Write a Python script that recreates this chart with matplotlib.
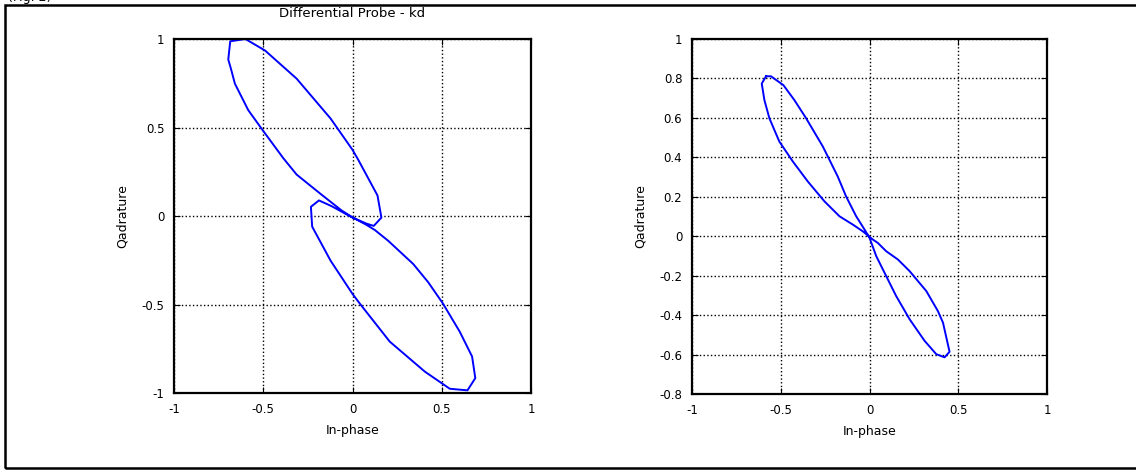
import numpy as np
import matplotlib.pyplot as plt
from matplotlib.patches import Rectangle

plt.rcParams['font.family'] = ['DejaVu Sans']

# left panel: Differential Probe - kd (figure-8 trace)
i_kd = [-0.60, -0.49, -0.313, -0.123, 0.0, 0.032, 0.140, 0.162, 0.119, 0.078,
        -0.006, -0.118, -0.188, -0.233, -0.226, -0.123, 0.0, 0.041, 0.209, 0.405,
        0.545, 0.644, 0.688, 0.670, 0.601, 0.507, 0.424, 0.340, 0.200, 0.125,
        0.078, -0.006, -0.062, -0.174, -0.313, -0.388, -0.504, -0.584, -0.659,
        -0.681, -0.696, -0.685, -0.60]
q_kd = [1.0, 0.935, 0.776, 0.551, 0.374, 0.318, 0.116, -0.009, -0.056, -0.043,
        -0.006, 0.056, 0.088, 0.052, -0.060, -0.252, -0.44, -0.495, -0.710, -0.879,
        -0.976, -0.985, -0.916, -0.794, -0.654, -0.495, -0.374, -0.271, -0.140, -0.079,
        -0.050, -0.004, 0.032, 0.121, 0.234, 0.327, 0.486, 0.598, 0.748,
        0.832, 0.884, 0.987, 1.0]

# right panel
i_r = [-0.583, -0.555, -0.485, -0.423, -0.357, -0.263, -0.179, -0.132, -0.075,
       -0.028, 0.0, 0.038, 0.094, 0.150, 0.226, 0.310, 0.376, 0.423, 0.451,
       0.414, 0.385, 0.320, 0.226, 0.160, 0.094, 0.047, 0.019, -0.004, -0.038,
       -0.094, -0.169, -0.254, -0.348, -0.432, -0.508, -0.564, -0.592, -0.607,
       -0.583]
q_r = [0.811, 0.811, 0.766, 0.690, 0.598, 0.455, 0.303, 0.202, 0.101,
       0.034, -0.008, -0.101, -0.202, -0.303, -0.421, -0.530, -0.598, -0.614, -0.586,
       -0.438, -0.379, -0.278, -0.177, -0.118, -0.076, -0.034, -0.017, 0.0, 0.025,
       0.059, 0.101, 0.177, 0.278, 0.379, 0.480, 0.598, 0.690, 0.774,
       0.811]

xticks = [-1, -0.5, 0, 0.5, 1]
yticks_l = [-1, -0.5, 0, 0.5, 1]
yticks_r = [-0.8, -0.6, -0.4, -0.2, 0, 0.2, 0.4, 0.6, 0.8, 1]

fig = plt.figure(figsize=(11.36, 4.73), dpi=100)

# outer frame (right edge falls outside the picture)
fig.patches.append(Rectangle((5 / 1136, 5 / 473), 1.2, 1 - 10 / 473,
                             transform=fig.transFigure, fill=False,
                             edgecolor='black', linewidth=1.8, clip_on=False))
fig.text(8 / 1136, 1 - 1.5 / 473, '(Fig. 2)', fontsize=9, va='baseline')

ax1 = fig.add_axes([174 / 1136, 1 - 393 / 473, 357 / 1136, 354 / 473])
ax2 = fig.add_axes([692 / 1136, 1 - 394 / 473, 355 / 1136, 355 / 473])

for ax, xs, ys, yt, ylim in [(ax1, i_kd, q_kd, yticks_l, (-1, 1)),
                             (ax2, i_r, q_r, yticks_r, (-0.8, 1))]:
    ax.plot(xs, ys, color=(0, 0, 1), linewidth=1.4)
    ax.set_xlim(-1, 1)
    ax.set_ylim(*ylim)
    ax.set_xticks(xticks)
    ax.set_xticklabels(['%g' % v for v in xticks])
    ax.set_yticks(yt)
    ax.set_yticklabels(['%g' % v for v in yt])
    ax.grid(True, linestyle=':', color='black', linewidth=1.0)
    ax.tick_params(direction='in', top=True, right=True, length=4,
                   labelsize=8.5, pad=7)
    for sp in ax.spines.values():
        sp.set_linewidth(1.6)
    ax.set_xlabel('In-phase', fontsize=9, labelpad=6)
    ax.set_ylabel('Qadrature', fontsize=9, labelpad=9)

ax1.set_title('Differential Probe - kd', fontsize=9.5, pad=16)

fig.savefig('out.png', dpi=100)
